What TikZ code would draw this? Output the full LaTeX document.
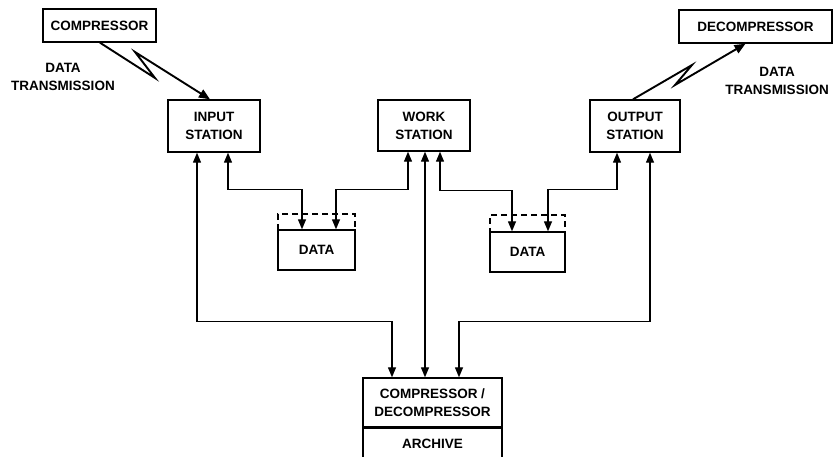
\documentclass[tikz,border=0pt]{standalone}
\usepackage{fontspec}
\setmainfont{Liberation Sans}
\usetikzlibrary{arrows.meta}
\definecolor{col_000000}{RGB}{0,0,0}
\definecolor{col_ffffff}{RGB}{255,255,255}
\tikzset{
  box/.style={draw=col_000000, line width=1.4pt, fill=col_ffffff, align=center, inner sep=0pt,
    font=\fontsize{13.5}{18}\selectfont\bfseries},
  dashbox/.style={draw=col_000000, line width=1.4pt, dashed, dash pattern=on 6pt off 4pt, inner sep=0pt},
  lbl/.style={align=center, inner sep=0pt, font=\fontsize{13.5}{18}\selectfont\bfseries},
  dbl/.style={draw=col_000000, line width=1.3pt, {Triangle[length=10pt,width=8pt]}-{Triangle[length=10pt,width=8pt]}},
  zap/.style={draw=col_000000, line width=1.9pt, -{Triangle[length=11pt,width=9pt]}}
}

\begin{document}
\begin{tikzpicture}[x=1pt,y=-1pt]
\clip (0,0) rectangle (838,456);     %% page size
\fill[col_ffffff] (0,0) rectangle (838,456);
\node[box, minimum width=113pt, minimum height=33pt] (comp) at (99.5,25.5) {COMPRESSOR};
\node[box, minimum width=153pt, minimum height=33pt] (decomp) at (755.5,26.5) {DECOMPRESSOR};
\node[box, minimum width=92pt, minimum height=52pt] (inp) at (214,126) {INPUT\\STATION};
\node[box, minimum width=92pt, minimum height=51pt] (wk) at (424,125.5) {WORK\\STATION};
\node[box, minimum width=90pt, minimum height=52pt] (outp) at (635,126) {OUTPUT\\STATION};
\node[lbl] (txl) at (63,77) {DATA\\TRANSMISSION};
\node[lbl] (txr) at (777,81) {DATA\\TRANSMISSION};
\node[dashbox, minimum width=77pt, minimum height=16pt] (dash1) at (316.5,222) {};     %% open store
\node[box, minimum width=77pt, minimum height=40pt] (data1) at (316.5,250) {DATA};
\node[dashbox, minimum width=75pt, minimum height=17pt] (dash2) at (527.5,223.5) {};     %% open store
\node[box, minimum width=75pt, minimum height=40pt] (data2) at (527.5,252) {DATA};
\node[box, minimum width=139pt, minimum height=49pt] (arc) at (432.5,402.5) {COMPRESSOR /\\DECOMPRESSOR};
\node[box, minimum width=139pt, anchor=north, text height=17pt, text depth=20pt, inner ysep=3pt] (arch) at (arc.south) {ARCHIVE};
%% data transmission
\coordinate (zl1) at (155,78);
\coordinate (zl2) at (135,52);
\coordinate (zr1) at (692,65);
\coordinate (zr2) at (675,85);
\draw[zap] ([xshift=0.5pt]comp.south) -- (zl1) -- (zl2) -- ([xshift=-4pt]inp.north);
\draw[zap] ([xshift=-2pt]outp.north) -- (zr1) -- (zr2) -- ([xshift=-10pt]decomp.south);
%% stations and data
\draw[dbl] ([xshift=14pt]inp.south) -- ++(0,37) -| ([xshift=-14.5pt]data1.north);
\draw[dbl] ([xshift=-16pt]wk.south) -- ++(0,38) -| ([xshift=19.5pt]data1.north);
\draw[dbl] ([xshift=16pt]wk.south) -- ++(0,39) -| ([xshift=-15.5pt]data2.north);
\draw[dbl] ([xshift=-18pt]outp.south) -- ++(0,37) -| ([xshift=20.5pt]data2.north);
%% stations and archive
\draw[dbl] ([xshift=-17pt]inp.south) -- ++(0,169) -| ([xshift=-40.5pt]arc.north);
\draw[dbl] ([xshift=1pt]wk.south) -- ([xshift=-7.5pt]arc.north);
\draw[dbl] ([xshift=15pt]outp.south) -- ++(0,169) -| ([xshift=26.5pt]arc.north);
\end{tikzpicture}
\end{document}
